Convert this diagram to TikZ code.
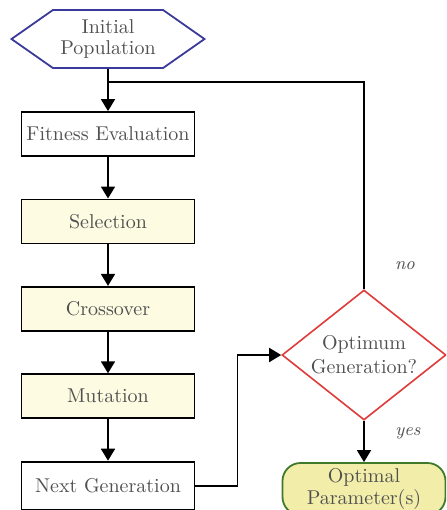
\documentclass[tikz,border=0pt]{standalone}
\usepackage{xcolor}
\usepackage{tikz}
\usetikzlibrary{arrows.meta,positioning,shapes.geometric,shapes.symbols}

\definecolor{txtgray}{HTML}{505050}
\definecolor{boxyellow}{HTML}{FDFBE1}
\definecolor{hexblue}{HTML}{3A3A9A}
\definecolor{decred}{HTML}{E03A3A}
\definecolor{endgreen}{HTML}{3F7A2C}
\definecolor{endfill}{HTML}{F2EEAA}

\begin{document}
\begin{tikzpicture}[
  x=0.5pt,y=-0.5pt,
  font=\normalsize,
  step box/.style={draw,line width=0.9pt,text=txtgray,minimum width=86.5pt,minimum height=22pt,inner sep=2pt},
  hl box/.style={step box,fill=boxyellow},
  start hex/.style={draw=hexblue,line width=0.9pt,text=txtgray,signal,signal to=west and east,
    signal pointer angle=70,minimum width=96.5pt,minimum height=29pt,align=center,inner sep=1pt,
    font=\normalsize\linespread{0.9}\selectfont},
  test dia/.style={draw=decred,line width=0.8pt,diamond,aspect=1.26,inner sep=0pt,text=txtgray,
    minimum width=82pt,minimum height=65pt,align=center},
  end box/.style={draw=endgreen,line width=0.9pt,fill=endfill,rounded corners=9pt,text=txtgray,
    minimum width=81.5pt,minimum height=26pt,align=center,inner sep=1pt,
    font=\normalsize\linespread{0.9}\selectfont},
  lbl/.style={font=\small\itshape,text=txtgray},
  >={Triangle[width=7pt,length=6pt]},
  line width=0.9pt]
  \clip (0,0) rectangle (446,510);
  \useasboundingbox (0,0) rectangle (446,510);

  \node[start hex] (init) at (108,39) {Initial\\Population};
  \node[step box] (fit) at (108,134) {Fitness Evaluation};
  \node[hl box,below=20.8pt of fit] (sel) {Selection};
  \node[hl box,below=20.8pt of sel] (cross) {Crossover};
  \node[hl box,below=20.8pt of cross] (mut) {Mutation};
  \node[step box,minimum height=24pt,below=20.8pt of mut] (next) {Next Generation};
  \node[test dia] (opt) at (364,355) {Optimum\\Generation?};
  \node[end box] (res) at (364,489) {Optimal\\Parameter(s)};
  \coordinate (join) at (108,82);

  \draw[->] (init) -- (fit);
  \draw[->] (fit) -- (sel);
  \draw[->] (sel) -- (cross);
  \draw[->] (cross) -- (mut);
  \draw[->] (mut) -- (next);
  \draw[->] (next.east) -- ++(42,0) |- (opt.west);
  \draw (opt.north) |- (join);
  \draw[->] (opt.south) -- (res.north);
  \node[lbl] at (405,266) {no};
  \node[lbl] at (408,433) {yes};
\end{tikzpicture}
\end{document}
